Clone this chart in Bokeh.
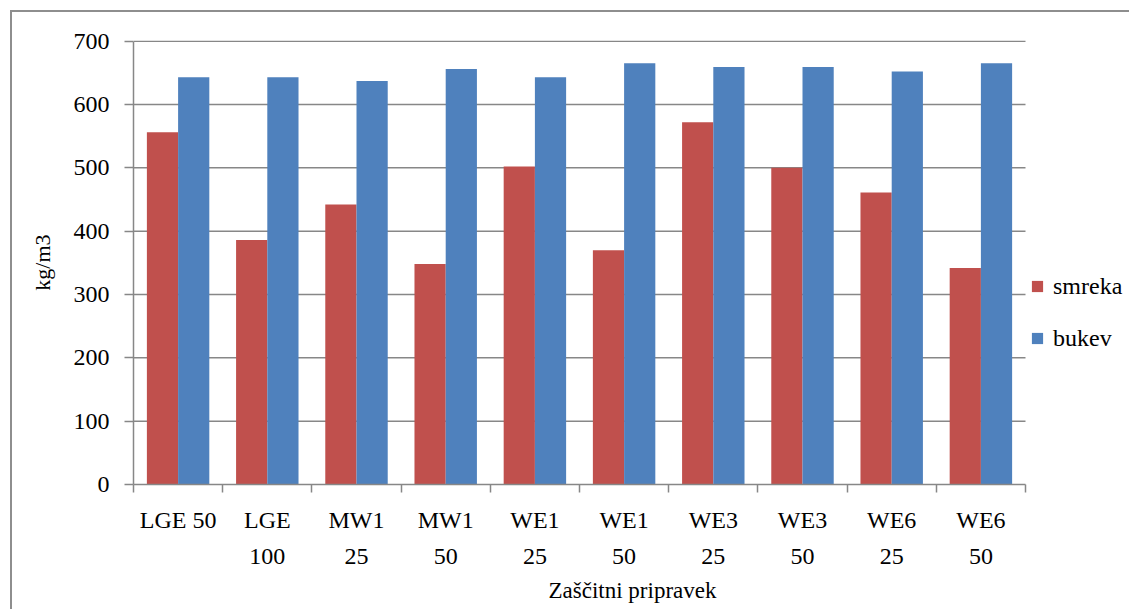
from bokeh.plotting import figure
from bokeh.models import FixedTicker, Legend, LegendItem
from bokeh.embed import file_html
from bokeh.resources import INLINE

categories = ["LGE 50", "LGE\n100", "MW1\n25", "MW1\n50", "WE1\n25",
              "WE1\n50", "WE3\n25", "WE3\n50", "WE6\n25", "WE6\n50"]
smreka = [556, 386, 442, 348, 502, 370, 572, 500, 461, 342]
bukev = [643, 643, 637, 656, 643, 665, 659, 659, 652, 665]
y_ticks = [0, 100, 200, 300, 400, 500, 600, 700]

RED = "#C0504D"
BLUE = "#4F81BD"
GREY = "#878787"
FONT = "Liberation Serif"

n = len(categories)
centers = [i + 0.5 for i in range(n)]
bw = 0.35
x_end = n * 998 / 892  # frame reaches the right edge, room for the legend

p = figure(width=1119, height=599, x_range=(0, x_end), y_range=(0, 701),
           output_backend="svg", toolbar_location=None,
           min_border_left=121, min_border_top=28, min_border_right=0,
           min_border_bottom=127)
p.styles = {"border-left": "2px solid #8e8e8e", "border-top": "2px solid #8e8e8e",
            "margin-left": "10px", "margin-top": "10px"}
p.outline_line_color = None
p.background_fill_color = "white"
p.border_fill_color = "white"

# horizontal gridlines
p.segment(x0=0, x1=n, y0=y_ticks[1:], y1=y_ticks[1:], line_color=GREY, line_width=1.5)

r1 = p.vbar(x=[c - bw / 2 for c in centers], top=smreka, bottom=0, width=bw,
            color=RED, line_color=None)
r2 = p.vbar(x=[c + bw / 2 for c in centers], top=bukev, bottom=0, width=bw,
            color=BLUE, line_color=None)

# y axis
p.yaxis.bounds = (0, 700)
p.yaxis.ticker = FixedTicker(ticks=y_ticks)
p.yaxis.axis_line_color = GREY
p.yaxis.axis_line_width = 1.5
p.yaxis.major_tick_line_color = GREY
p.yaxis.major_tick_line_width = 1.5
p.yaxis.major_tick_out = 9
p.yaxis.major_tick_in = 0
p.yaxis.minor_tick_line_color = None
p.yaxis.major_label_standoff = 15
p.yaxis.major_label_text_font = FONT
p.yaxis.major_label_text_font_size = "24px"
p.yaxis.major_label_text_color = "black"
p.yaxis.axis_label = "kg/m3"
p.yaxis.axis_label_text_font = FONT
p.yaxis.axis_label_text_font_size = "22px"
p.yaxis.axis_label_text_font_style = "normal"
p.yaxis.axis_label_text_color = "black"
p.yaxis.axis_label_standoff = 16

# x axis
p.xaxis.bounds = (0, n)
p.xaxis.ticker = FixedTicker(ticks=centers, minor_ticks=list(range(n + 1)))
p.xaxis.major_label_overrides = {c: lab for c, lab in zip(centers, categories)}
p.xaxis.axis_line_color = GREY
p.xaxis.axis_line_width = 1.5
p.xaxis.major_tick_line_color = None
p.xaxis.major_tick_out = 8
p.xaxis.major_tick_in = 0
p.xaxis.minor_tick_line_color = GREY
p.xaxis.minor_tick_line_width = 1.5
p.xaxis.minor_tick_out = 8
p.xaxis.minor_tick_in = 0
p.xaxis.major_label_standoff = 14
p.xaxis.major_label_text_font = FONT
p.xaxis.major_label_text_font_size = "24px"
p.xaxis.major_label_text_line_height = 1.4
p.xaxis.major_label_text_color = "black"
p.xaxis.axis_label = "Zaščitni pripravek"
p.xaxis.axis_label_text_font = FONT
p.xaxis.axis_label_text_font_size = "23px"
p.xaxis.axis_label_text_font_style = "normal"
p.xaxis.axis_label_text_color = "black"
p.xaxis.axis_label_standoff = 6

p.xgrid.grid_line_color = None
p.ygrid.grid_line_color = None

legend = Legend(items=[LegendItem(label="smreka", renderers=[r1]),
                       LegendItem(label="bukev", renderers=[r2])],
                location=(897, 132), orientation="vertical",
                glyph_width=14, glyph_height=14, label_standoff=9,
                label_text_font=FONT, label_text_font_size="24px",
                label_text_color="black",
                label_height=28, spacing=24, padding=0, margin=0,
                border_line_color=None, background_fill_alpha=0)
p.add_layout(legend, "center")

open("out.html", "w").write(file_html(p, INLINE))
